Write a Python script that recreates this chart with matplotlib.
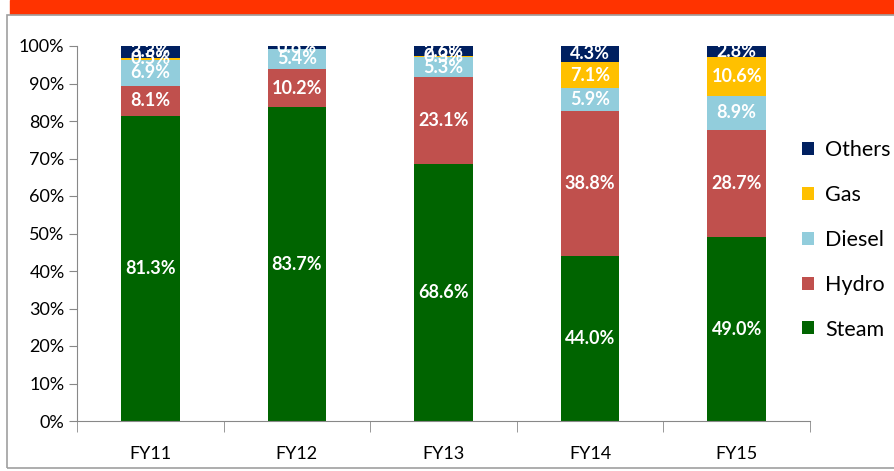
import numpy as np
import matplotlib
matplotlib.use('Agg')
import matplotlib.pyplot as plt
from matplotlib.patches import Rectangle

years = ['FY11', 'FY12', 'FY13', 'FY14', 'FY15']
steam = [81.3, 83.7, 68.6, 44.0, 49.0]
hydro = [8.1, 10.2, 23.1, 38.8, 28.7]
diesel = [6.9, 5.4, 5.3, 5.9, 8.9]
gas = [0.5, 0.0, 0.3, 7.1, 10.6]
others = [3.3, 0.6, 2.6, 4.3, 2.8]

series = [('Steam', steam, '#006400'),
          ('Hydro', hydro, '#C0504D'),
          ('Diesel', diesel, '#92CDDC'),
          ('Gas', gas, '#FFC000'),
          ('Others', others, '#002060')]

plt.rcParams['font.family'] = ['Lato', 'DejaVu Sans']

fig = plt.figure(figsize=(8.95, 4.71), dpi=100)
# header band and frame
fig.patches.append(Rectangle((10/895, 1-14/471), 885/895, 14/471, transform=fig.transFigure,
                             color='#FF3300', zorder=0))
fig.patches.append(Rectangle((7/895, 3/471), 900/895, (468-15)/471, transform=fig.transFigure,
                             fill=False, edgecolor='#A0A0A0', lw=1.2, zorder=0))

ax = fig.add_axes([77/895, 50/471, (810-77)/895, (421-46)/471])
x = np.arange(len(years))
bottom = np.zeros(len(years))
handles = []
for name, vals, col in series:
    vals = np.array(vals)
    b = ax.bar(x, vals, 0.4, bottom=bottom, color=col, label=name, zorder=2)
    handles.append(b)
    for xi, v, bt in zip(x, vals, bottom):
        if v > 0:
            ax.text(xi, bt + v/2, '%.1f%%' % v, ha='center', va='center', color='white',
                    fontsize=13, fontweight='bold', zorder=3)
    bottom += vals

ax.set_xlim(-0.5, len(years) - 0.5)
ax.set_ylim(0, 100)
ax.set_yticks(np.arange(0, 101, 10))
ax.set_yticklabels(['%d%%' % v for v in range(0, 101, 10)], fontsize=13)
ax.set_xticks(x)
ax.set_xticklabels(years, fontsize=13)
ax.set_xticks(np.arange(-0.5, len(years)), minor=True)
ax.tick_params(axis='x', which='major', length=0, pad=18)
ax.tick_params(axis='x', which='minor', length=8, color='#888888')
ax.tick_params(axis='y', length=6, color='#888888', pad=3)
for s in ['top', 'right']:
    ax.spines[s].set_visible(False)
for s in ['left', 'bottom']:
    ax.spines[s].set_color('#888888')

leg = fig.legend(handles[::-1], [s[0] for s in series][::-1], loc='center left',
                 bbox_to_anchor=(783/895, 1-240/471), frameon=False, fontsize=15.5,
                 handlelength=0.55, handleheight=0.55, labelspacing=1.15, handletextpad=0.5)

fig.savefig('out.png', dpi=100)
